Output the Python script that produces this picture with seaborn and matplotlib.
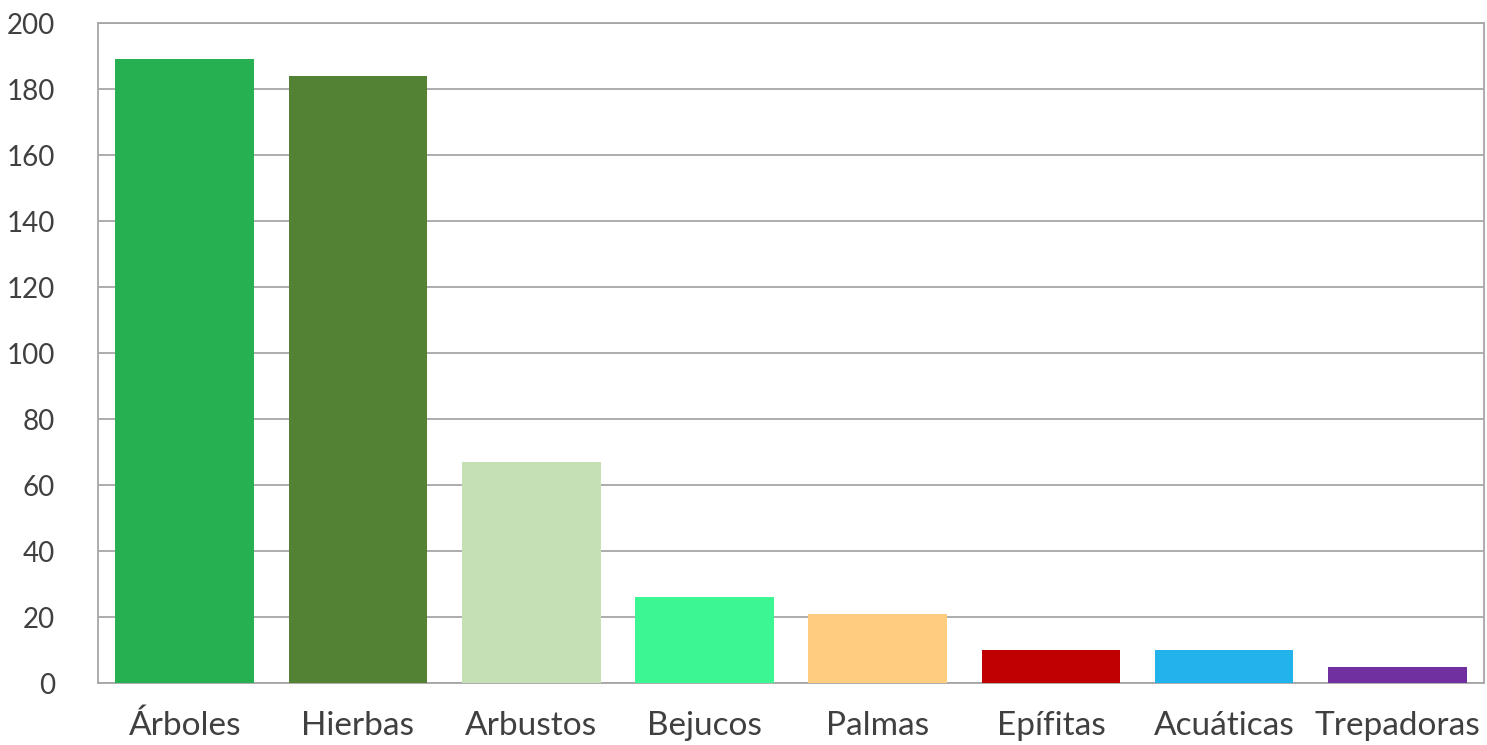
import matplotlib
matplotlib.use("Agg")
import matplotlib.pyplot as plt
import seaborn as sns
import pandas as pd

# Species counts by growth form
categories = ["Árboles", "Hierbas", "Arbustos", "Bejucos", "Palmas", "Epífitas", "Acuáticas", "Trepadoras"]
counts = [189, 184, 67, 26, 21, 10, 10, 5]
bar_colors = ["#27B052", "#548235", "#C5E0B4", "#3CF694", "#FFCD80", "#C00000", "#22B2EC", "#7030A0"]
y_ticks = [0, 20, 40, 60, 80, 100, 120, 140, 160, 180, 200]

sns.set_theme(style="white")
plt.rcParams["font.family"] = ["Lato", "DejaVu Sans"]

df = pd.DataFrame({"forma": categories, "n": counts})

fig = plt.figure(figsize=(14.87, 7.45), dpi=100)
ax = fig.add_axes([0.066, 0.083, 0.932, 0.886])

sns.barplot(data=df, x="forma", y="n", hue="forma", palette=bar_colors,
            order=categories, hue_order=categories, legend=False,
            width=0.8, saturation=1, linewidth=0, ax=ax, zorder=3)

ax.set_ylim(0, 200)
ax.set_yticks(y_ticks)
ax.set_yticklabels([str(t) for t in y_ticks])
ax.yaxis.grid(True, color="#A6A6A6", linewidth=1.3, zorder=0)
ax.set_axisbelow(True)
ax.set_xlabel("")
ax.set_ylabel("")

for side in ["left", "right", "top", "bottom"]:
    ax.spines[side].set_visible(True)
    ax.spines[side].set_color("#A6A6A6")
    ax.spines[side].set_linewidth(1.3)

ax.tick_params(axis="y", length=0, pad=31, labelsize=20, labelcolor="#404040")
ax.tick_params(axis="x", length=0, pad=20, labelsize=24, labelcolor="#404040")

fig.savefig("out.png", dpi=100, facecolor="white")
